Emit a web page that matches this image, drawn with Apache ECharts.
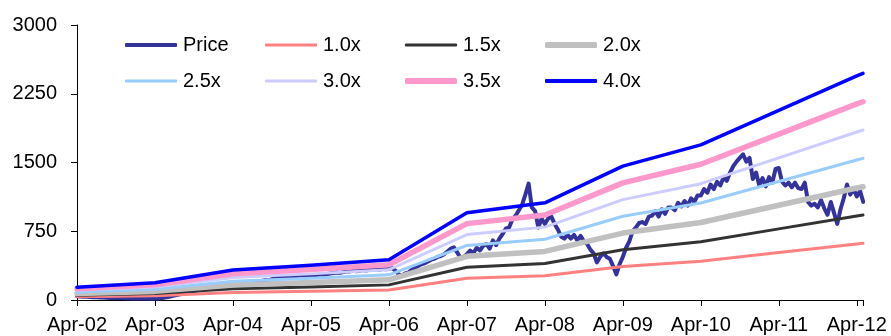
<!DOCTYPE html>
<html>
<head>
<meta charset="utf-8">
<script src="https://cdn.jsdelivr.net/npm/echarts@6/dist/echarts.min.js"></script>
<style>
  html, body { margin: 0; padding: 0; background: #fff; }
  #chart { width: 891px; height: 336px; }
</style>
</head>
<body>
<div id="chart"></div>
<script>
// Year tick labels (one per April)
const tickLabels = ['Apr-02','Apr-03','Apr-04','Apr-05','Apr-06','Apr-07','Apr-08','Apr-09','Apr-10','Apr-11','Apr-12'];

// Band break points, in years since Apr-02
const bandYears = [0, 1, 2, 3, 4, 5, 6, 7, 8, 9, 10, 10.08];

// Multiple bands
const band10 = [35, 47, 82, 95, 110, 238, 265, 365, 423, 517, 611, 618];
const band15 = [53, 71, 123, 143, 165, 357, 398, 548, 635, 776, 917, 927];
const band20 = [70, 94, 164, 190, 220, 476, 530, 730, 846, 1034, 1222, 1236];
const band25 = [88, 118, 205, 238, 275, 595, 663, 913, 1058, 1293, 1528, 1545];
const band30 = [105, 141, 246, 285, 330, 714, 795, 1095, 1269, 1551, 1833, 1854];
const band35 = [123, 165, 287, 333, 385, 833, 928, 1278, 1481, 1810, 2139, 2163];
const band40 = [140, 188, 328, 380, 440, 952, 1060, 1460, 1692, 2068, 2444, 2472];

// Price, sampled twice a month from Apr-02
const priceStep = 1 / 24;
const price = [
  40,38,36,35,33,31,29,28,26,25,23,21,22,24,22,20,18,17,16,15,17,16,15,14,
  15,17,20,26,33,40,48,56,64,72,80,90,98,106,116,124,130,138,146,152,148,158,164,170,
  168,162,158,168,178,172,184,190,198,208,218,212,228,238,248,244,254,258,262,256,264,270,266,274,
  270,264,272,280,274,284,290,294,300,296,304,310,312,318,314,320,326,322,330,326,334,330,340,336,
  340,350,320,280,265,290,300,330,350,370,390,400,420,440,450,470,480,500,530,560,575,520,460,470,
  500,540,510,570,540,590,610,560,650,600,670,720,780,790,880,920,980,1040,1150,1270,1010,970,790,890,
  830,890,910,830,770,690,670,710,670,710,650,700,640,610,550,510,410,470,510,470,450,370,280,390,
  470,570,640,750,790,840,850,830,910,920,970,910,990,940,1010,1010,980,1060,1020,1080,1030,1110,1070,1140,
  1140,1210,1170,1260,1210,1290,1250,1340,1300,1390,1460,1510,1550,1590,1510,1550,1320,1390,1250,1330,1240,1340,1280,1430,
  1440,1290,1250,1280,1230,1280,1220,1210,1280,1070,1030,1050,1010,1090,1000,930,1070,950,830,990,1110,1260,1150,1210,
  1130,1190,1070
];

const pricePairs = price.map((v, i) => [i * priceStep, v]);
const pair = (arr) => arr.map((v, i) => [bandYears[i], v]);

const FONT = 'Liberation Sans, Arial, sans-serif';

// Series styling: name, data, colour, line width
const seriesDefs = [
  ['Price', pricePairs, '#333399', 4],
  ['1.0x', pair(band10), '#FF8080', 3],
  ['1.5x', pair(band15), '#333333', 3],
  ['2.0x', pair(band20), '#C0C0C0', 5.5],
  ['2.5x', pair(band25), '#99CCFF', 3],
  ['3.0x', pair(band30), '#CCCCFF', 3],
  ['3.5x', pair(band35), '#FF99CC', 5.5],
  ['4.0x', pair(band40), '#0000FF', 3.5]
];

const series = seriesDefs.map(([name, data, color, width]) => ({
  name, type: 'line', data, symbol: 'none', showSymbol: false,
  lineStyle: { color, width, cap: 'round', join: 'round' },
  itemStyle: { color },
  animation: false, silent: true
}));

// One legend entry per series, laid out in two rows of four
const legends = seriesDefs.map(([name, , color, width], k) => ({
  left: 125 + (k % 4) * 140,
  top: k < 4 ? 35 : 71,
  padding: 0,
  selectedMode: false,
  itemWidth: 52,
  itemHeight: Math.round(width),
  itemGap: 0,
  icon: 'roundRect',
  data: [{ name, icon: 'roundRect', itemStyle: { color, borderWidth: 0 } }],
  textStyle: { fontFamily: FONT, fontSize: 20, color: '#000', padding: [0, 0, 0, 1] }
}));

const chart = echarts.init(document.getElementById('chart'), null, { renderer: 'canvas' });

chart.setOption({
  animation: false,
  backgroundColor: '#fff',
  grid: { left: 77, right: 28, top: 25, bottom: 36, outerBoundsMode: 'none', containLabel: false },
  legend: legends,
  xAxis: {
    type: 'value', min: 0, max: 10.08, interval: 1,
    axisLine: { show: true, onZero: false, lineStyle: { color: '#000', width: 1 } },
    axisTick: { show: true, length: 6, lineStyle: { color: '#000' } },
    splitLine: { show: false },
    axisLabel: {
      margin: 15, fontFamily: FONT, fontSize: 20, color: '#000',
      formatter: (v) => (Number.isInteger(v) && tickLabels[v]) ? tickLabels[v] : ''
    }
  },
  yAxis: {
    type: 'value', min: 0, max: 3000, interval: 750,
    axisLine: { show: true, lineStyle: { color: '#000', width: 1 } },
    axisTick: { show: true, length: 6, lineStyle: { color: '#000' } },
    splitLine: { show: false },
    axisLabel: { margin: 20, fontFamily: FONT, fontSize: 20, color: '#000', formatter: (v) => String(v) }
  },
  series
});
</script>
</body>
</html>
